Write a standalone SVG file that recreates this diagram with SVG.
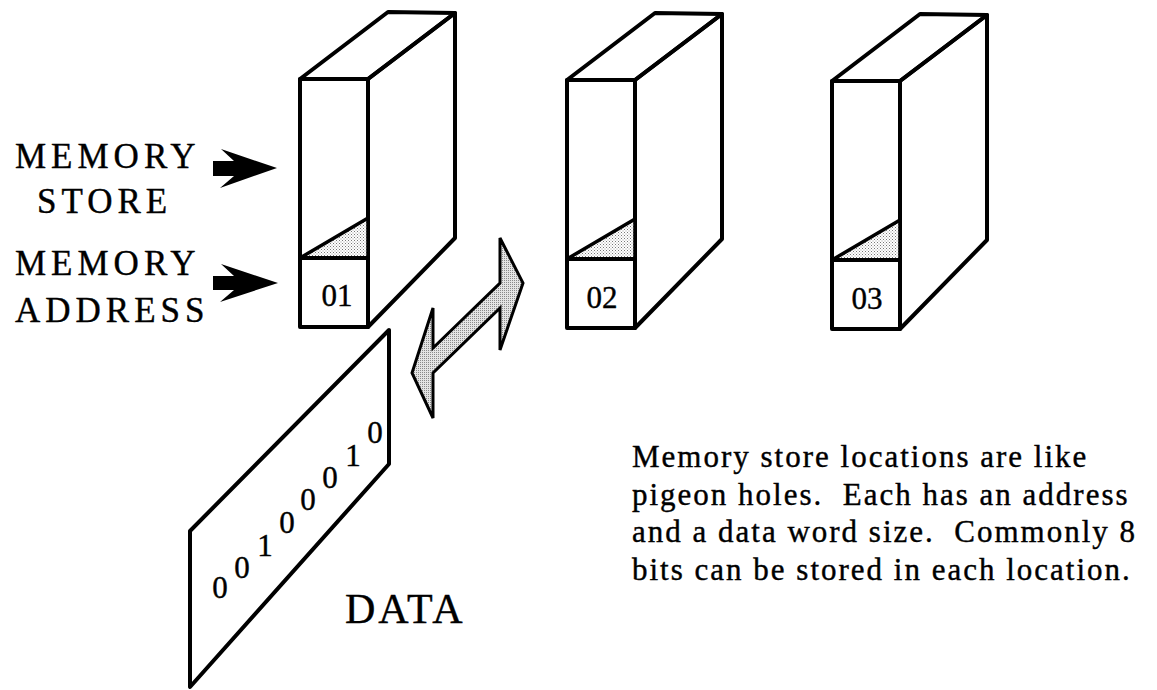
<svg xmlns="http://www.w3.org/2000/svg" width="1157" height="690" viewBox="0 0 1157 690">
  <defs>
    <!-- light stipple used for the shaded wedge in each box -->
    <pattern id="stipple" width="3" height="3" patternUnits="userSpaceOnUse">
      <rect width="3" height="3" fill="#ffffff"/>
      <rect x="0" y="0" width="1" height="1" fill="#777777"/>
      <rect x="1.5" y="1.5" width="1" height="1" fill="#999999"/>
    </pattern>
    <!-- denser stipple for the transfer arrow -->
    <pattern id="stippleDark" width="2" height="2" patternUnits="userSpaceOnUse">
      <rect width="2" height="2" fill="#e4e4e4"/>
      <rect x="0" y="0" width="1" height="1" fill="#8a8a8a"/>
    </pattern>
    <!-- one memory cell drawn as a 3D block -->
    <g id="cell">
      <path class="edge" d="M300,79 L388,12 L455,13 L368,79 Z" fill="#ffffff"/>
      <path class="edge" d="M368,79 L455,13 L455,238 L368,327 Z" fill="#ffffff"/>
      <rect class="edge" x="300" y="79" width="68" height="248" fill="#ffffff"/>
      <path d="M300,258 L368,218 L368,258 Z" fill="url(#stipple)" stroke="#000" stroke-width="3.5" stroke-linejoin="round"/>
      <line class="edge" x1="300" y1="258" x2="368" y2="258"/>
    </g>
  </defs>
  <style>
    .edge { stroke: #000000; stroke-width: 4; stroke-linejoin: round; fill: none; }
    .serif { font-family: "Liberation Serif", "Times New Roman", serif; fill: #000000; stroke: #000000; stroke-width: 0.4; }
    .label { font-size: 35px; letter-spacing: 5px; }
    .addr { font-size: 31px; text-anchor: middle; }
    .bit { font-size: 31px; text-anchor: middle; }
    .note { font-size: 31px; letter-spacing: 2px; white-space: pre; }
  </style>

  <rect width="1157" height="690" fill="#ffffff"/>

  <!-- memory cells -->
  <g id="cell-01">
    <use href="#cell"/>
    <text class="serif addr" x="337" y="306">01</text>
  </g>
  <g id="cell-02" transform="translate(267,1)">
    <use href="#cell"/>
    <text class="serif addr" x="335" y="307">02</text>
  </g>
  <g id="cell-03" transform="translate(532,2)">
    <use href="#cell"/>
    <text class="serif addr" x="335" y="307">03</text>
  </g>

  <!-- side labels -->
  <g id="label-store">
    <text class="serif label" x="15" y="168">MEMORY</text>
    <text class="serif label" x="37" y="213">STORE</text>
  </g>
  <g id="label-address">
    <text class="serif label" x="15" y="275">MEMORY</text>
    <text class="serif label" x="15" y="322">ADDRESS</text>
  </g>

  <!-- data word card -->
  <g id="data-card">
    <path d="M190,531 L389,330 L389,464 L190,687 Z" fill="#ffffff" stroke="#000" stroke-width="4" stroke-linejoin="round"/>
    <text class="serif bit" x="220" y="598">0</text>
    <text class="serif bit" x="242" y="578">0</text>
    <text class="serif bit" x="265" y="556">1</text>
    <text class="serif bit" x="287" y="533">0</text>
    <text class="serif bit" x="308" y="510">0</text>
    <text class="serif bit" x="330" y="488">0</text>
    <text class="serif bit" x="353" y="466">1</text>
    <text class="serif bit" x="375" y="443">0</text>
  </g>
  <g id="label-data">
    <text class="serif" x="345" y="623" font-size="42" letter-spacing="3">DATA</text>
  </g>

  <!-- description -->
  <g id="note">
    <text class="serif note" x="632" y="467" xml:space="preserve">Memory store locations are like</text>
    <text class="serif note" x="632" y="505" xml:space="preserve">pigeon holes.  Each has an address</text>
    <text class="serif note" x="632" y="542" xml:space="preserve">and a data word size.  Commonly 8</text>
    <text class="serif note" x="632" y="580" xml:space="preserve">bits can be stored in each location.</text>
  </g>

  <!-- connectors -->
  <g id="connectors">
    <path d="M213,161 L234,161 L221,149 L277,168 L220,188 L234,176 L213,176 Z" fill="#000000"/>
    <path d="M213,276 L234,276 L221,264 L278,283 L220,302 L234,290 L213,290 Z" fill="#000000"/>
    <path d="M412,373 L433,308 L433,348 L500,283 L500,238 L523,283 L500,350 L500,308 L433,373 L433,418 Z"
          fill="url(#stippleDark)" stroke="#000" stroke-width="3" stroke-linejoin="miter"/>
  </g>
</svg>
